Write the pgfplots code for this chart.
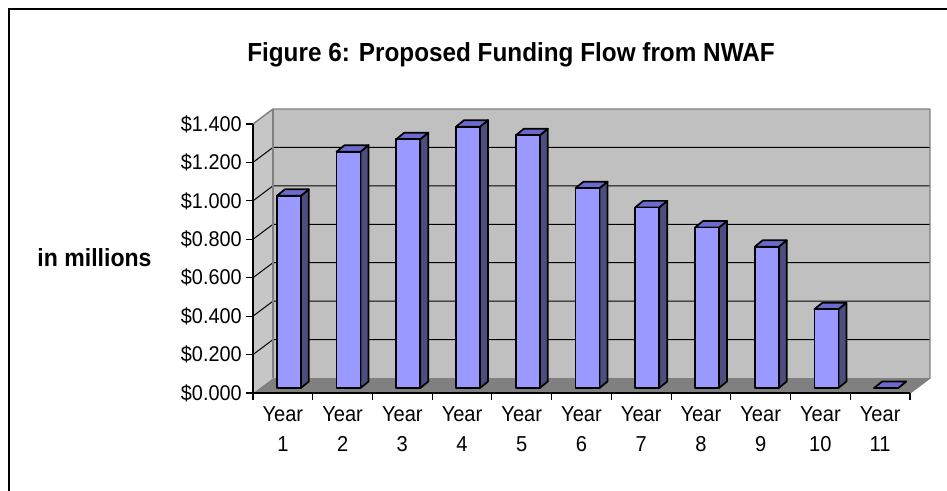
\documentclass[border=0pt]{standalone}
\usepackage{fontspec}
\setmainfont{Liberation Sans}[FakeStretch=0.93]
\usepackage{pgfplots}
\usepackage{pgfplotstable}
\pgfplotsset{compat=1.18}
\definecolor{barfront}{HTML}{9999FF}
\definecolor{barside}{HTML}{4D4D80}
\definecolor{bartop}{HTML}{6B6BCC}
\definecolor{wallgray}{HTML}{C0C0C0}
\definecolor{leftwall}{HTML}{C6C6C6}
\definecolor{floorgray}{HTML}{808080}
\definecolor{edgegray}{HTML}{808080}

\pgfplotstableread{
x y
0 1.00
1 1.23
2 1.295
3 1.36
4 1.315
5 1.04
6 0.94
7 0.835
8 0.735
9 0.41
10 0.0
}\fundtable

\begin{document}
\begin{tikzpicture}[x=0.75pt,y=0.75pt]
\useasboundingbox (0,0) rectangle (947,491);
\draw[line width=1.2pt] (9,0) -- (9,482) -- (947,482);
\node[anchor=base, font=\bfseries\fontsize{19.6}{23}\selectfont, inner sep=0pt] at (511,429) {Figure 6: Proposed Funding Flow from NWAF};
\node[anchor=base, font=\bfseries\fontsize{18.6}{21}\selectfont, inner sep=0pt] at (94.5,224.3) {in millions};
\begin{axis}[
  at={(189.75pt,73.5pt)}, anchor=south west,
  width=492.75pt, height=201.75pt, scale only axis,
  xmin=-0.5, xmax=10.5, ymin=0, ymax=1.4,
  clip=false, axis on top,
  axis lines=left, axis line style={-, black, line width=0.8pt},
  tick align=outside, major tick length=5pt, tick style={black, line width=0.8pt},
  xtick={-0.5,0.5,1.5,2.5,3.5,4.5,5.5,6.5,7.5,8.5,9.5,10.5},
  xticklabels={{Year\\1},{Year\\2},{Year\\3},{Year\\4},{Year\\5},{Year\\6},{Year\\7},{Year\\8},{Year\\9},{Year\\10},{Year\\11},{}},
  xticklabel style={xshift=22.4pt, yshift=-2pt, align=center, font=\fontsize{16.2}{22.5}\selectfont},
  ytick={0,0.2,0.4,0.6,0.8,1.0,1.2,1.4},
  /pgf/number format/assume math mode=true,
  yticklabel={\$\pgfmathprintnumber[fixed,fixed zerofill,precision=3]{\tick}},
  yticklabel style={font=\fontsize{16}{18}\selectfont},
]
% floor
\fill[floorgray] (axis cs:-0.5,0) -- (axis cs:10.5,0) -- ([shift={(15pt,11.25pt)}]axis cs:10.5,0) -- ([shift={(15pt,11.25pt)}]axis cs:-0.5,0) -- cycle;
% back wall
\fill[wallgray] ([shift={(15pt,11.25pt)}]axis cs:-0.5,0) rectangle ([shift={(15pt,11.25pt)}]axis cs:10.5,1.4);
% left wall
\fill[leftwall] (axis cs:-0.5,0) -- ([shift={(15pt,11.25pt)}]axis cs:-0.5,0) -- ([shift={(15pt,11.25pt)}]axis cs:-0.5,1.4) -- (axis cs:-0.5,1.4) -- cycle;
% gridlines
\pgfplotsinvokeforeach{0.2,0.4,0.6,0.8,1.0,1.2}{
  \draw[black, line width=0.75pt] (axis cs:-0.5,#1) -- ([shift={(15pt,11.25pt)}]axis cs:-0.5,#1) -- ([shift={(15pt,11.25pt)}]axis cs:10.5,#1);
}
% wall edges
\draw[edgegray, line width=1.1pt, line join=round] (axis cs:-0.5,1.4) -- ([shift={(15pt,11.25pt)}]axis cs:-0.5,1.4) -- ([shift={(15pt,11.25pt)}]axis cs:10.5,1.4) -- ([shift={(15pt,11.25pt)}]axis cs:10.5,0) -- (axis cs:10.5,0);
\draw[edgegray, line width=1.1pt] ([shift={(15pt,11.25pt)}]axis cs:-0.5,1.4) -- ([shift={(15pt,11.25pt)}]axis cs:-0.5,0);
% 3D bars
\addplot[scatter, only marks, mark=*, mark size=0.5pt,
  visualization depends on={rawy \as \val},
  scatter/@pre marker code/.code={%
    \pgfmathsetmacro\yb{3.75-\val*144.107}%
    \pgfmathsetmacro\ybb{\yb+4.875}%
    \draw[draw=black, fill=barside, line width=1.3pt, line join=round] (13.5pt,\yb pt) -- (19.5pt,\ybb pt) -- (19.5pt,8.625pt) -- (13.5pt,3.75pt) -- cycle;
    \draw[draw=black, fill=bartop, line width=1.3pt, line join=round] (-4.5pt,3.75pt) -- (13.5pt,3.75pt) -- (19.5pt,8.625pt) -- (1.5pt,8.625pt) -- cycle;
    \draw[draw=black, fill=barfront, line width=1.3pt, line join=round] (-4.5pt,\yb pt) rectangle (13.5pt,3.75pt);
    \scope[opacity=0]},
  scatter/@post marker code/.code={\endscope},
] table[x=x, y=y] {\fundtable};
\end{axis}
\end{tikzpicture}
\end{document}
